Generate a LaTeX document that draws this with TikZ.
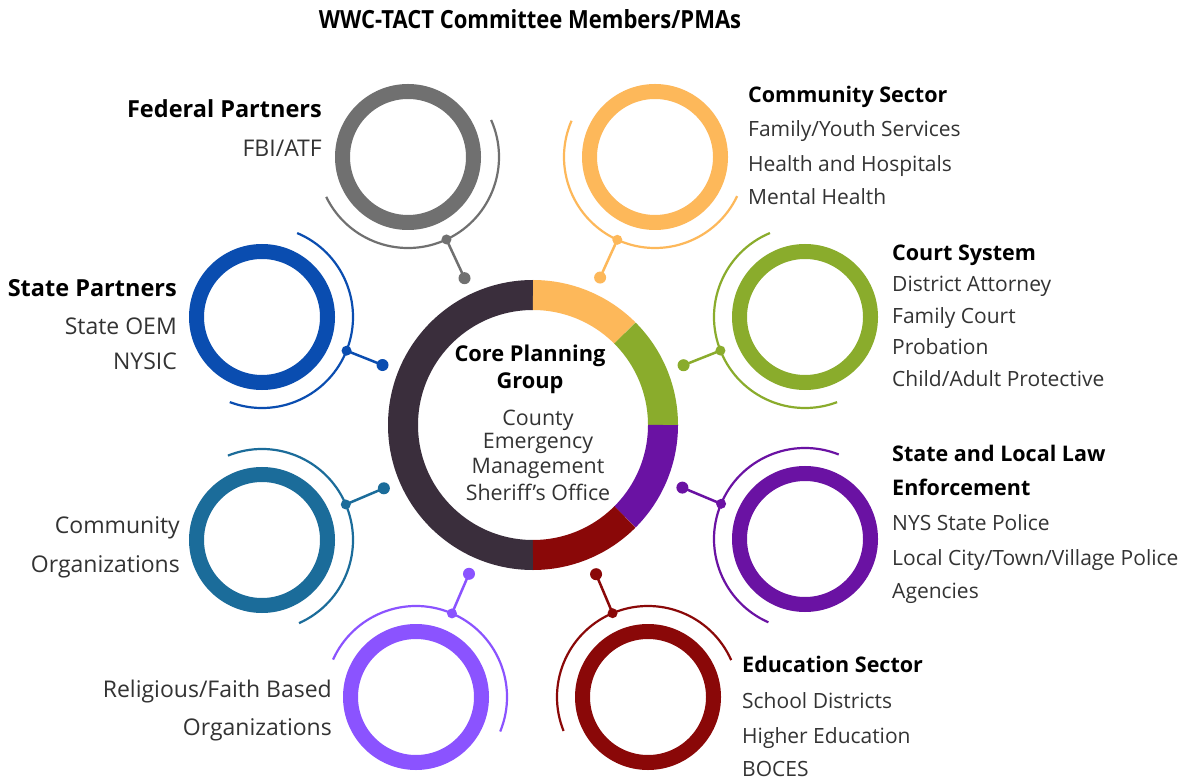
\documentclass[tikz,border=0pt]{standalone}
\usepackage{fontspec}
\setmainfont{Open Sans}
\newfontfamily\titlefont[FakeStretch=0.88]{Open Sans}
\usetikzlibrary{calc}
\definecolor{coredark}{HTML}{3A2E3C}
\definecolor{corange}{HTML}{FDB85A}
\definecolor{cgreen}{HTML}{8AAC2C}
\definecolor{cpurple}{HTML}{6A12A3}
\definecolor{cred}{HTML}{8A0808}
\definecolor{cgray}{HTML}{707070}
\definecolor{cblue}{HTML}{0A4DB0}
\definecolor{cteal}{HTML}{1B6C9A}
\definecolor{clpurple}{HTML}{8B53FF}
\definecolor{ctext}{HTML}{333333}
\tikzset{
  head/.style={inner sep=0pt, text=black, font=\fontsize{21.5}{25}\selectfont\bfseries},
  item/.style={inner sep=0pt, text=ctext, font=\fontsize{21}{25}\selectfont},
  lhead/.style={inner sep=0pt, text=black, font=\fontsize{23.5}{27}\selectfont\bfseries},
  litem/.style={inner sep=0pt, text=ctext, font=\fontsize{23}{27}\selectfont},
  corehead/.style={inner sep=0pt, text=black, font=\fontsize{21.8}{25}\selectfont\bfseries},
  coreitem/.style={inner sep=0pt, text=ctext, font=\fontsize{21.4}{24}\selectfont},
  bigdot/.style={circle, fill=#1, inner sep=0pt, minimum size=12pt},
  smalldot/.style={circle, fill=#1, inner sep=0pt, minimum size=10pt},
}
\newcommand\satellite[3]{%
  \coordinate (#1) at #3;
  \draw[line width=15pt, #2] (#1) circle[radius=65.5];
  \draw[#2, line width=2.2pt] let \p1=($(C)-(#1)$), \n1={atan2(\y1,\x1)} in
     ($(#1)+(\n1-89:91)$) arc[start angle=\n1-89, end angle=\n1+89, radius=91];
  \node[smalldot=#2] (#1a) at ($(#1)!91pt!(C)$) {};
  \node[bigdot=#2] (#1b) at ($(C)!162pt!(#1)$) {};
  \draw[#2, line width=2.5pt] (#1a.center) -- (#1b.center);
}
\begin{document}
\begin{tikzpicture}[x=1pt,y=1pt]
\useasboundingbox (0,0) rectangle (1204,780);
\fill[white] (0,0) rectangle (1204,780);
\coordinate (C) at (533,355);
% core ring
\draw[line width=30pt, coredark] ($(C)+(90:130)$) arc[start angle=90, end angle=270, radius=130];
\draw[line width=30pt, corange] ($(C)+(45:130)$) arc[start angle=45, end angle=90, radius=130];
\draw[line width=30pt, cgreen] ($(C)+(0:130)$) arc[start angle=0, end angle=45, radius=130];
\draw[line width=30pt, cpurple] ($(C)+(-45:130)$) arc[start angle=-45, end angle=0, radius=130];
\draw[line width=30pt, cred] ($(C)+(-90:130)$) arc[start angle=-90, end angle=-45, radius=130];
% satellites
\satellite{fed}{cgray}{(408,623)}
\satellite{com}{corange}{(655,623)}
\satellite{sta}{cblue}{(262,463)}
\satellite{cou}{cgreen}{(805,463)}
\satellite{org}{cteal}{(262,240)}
\satellite{law}{cpurple}{(805,241)}
\satellite{rel}{clpurple}{(416,83)}
\satellite{edu}{cred}{(648,83)}
% title
\node[inner sep=0pt, anchor=base, font=\fontsize{25}{28}\titlefont\bfseries] (title) at (530,751) {WWC-TACT Committee Members/PMAs};
% core text
\node[corehead, anchor=base] (core1) at (530,418) {Core Planning};
\node[corehead, anchor=base] (core2) at (530,391) {Group};
\node[coreitem, anchor=base] (core3) at (538,355) {County};
\node[coreitem, anchor=base] (core4) at (538,332) {Emergency};
\node[coreitem, anchor=base] (core5) at (538,307) {Management};
\node[coreitem, anchor=base] (core6) at (538,280) {Sheriff’s Office};
% federal
\node[lhead, anchor=base east] (fedt1) at (322,662) {Federal Partners};
\node[litem, anchor=base east] (fedt2) at (322,623) {FBI/ATF};
% community sector
\node[head, anchor=base west] (comt1) at (748,677) {Community Sector};
\node[item, anchor=base west] (comt2) at (748,643) {Family/Youth Services};
\node[item, anchor=base west] (comt3) at (748,608) {Health and Hospitals};
\node[item, anchor=base west] (comt4) at (748,575) {Mental Health};
% state partners
\node[lhead, anchor=base east] (stat1) at (177,483) {State Partners};
\node[litem, anchor=base east] (stat2) at (177,445) {State OEM};
\node[litem, anchor=base east] (stat3) at (177,410) {NYSIC};
% court
\node[head, anchor=base west] (cout1) at (892,519) {Court System};
\node[item, anchor=base west] (cout2) at (892,488) {District Attorney};
\node[item, anchor=base west] (cout3) at (892,456) {Family Court};
\node[item, anchor=base west] (cout4) at (892,425) {Probation};
\node[item, anchor=base west] (cout5) at (892,393) {Child/Adult Protective};
% community organizations
\node[litem, anchor=base east] (orgt1) at (180,247) {Community};
\node[litem, anchor=base east] (orgt2) at (180,208) {Organizations};
% law
\node[head, anchor=base west] (lawt1) at (892,319) {State and Local Law};
\node[head, anchor=base west] (lawt2) at (892,285) {Enforcement};
\node[item, anchor=base west] (lawt3) at (892,250) {NYS State Police};
\node[item, anchor=base west] (lawt4) at (892,215) {Local City/Town/Village Police};
\node[item, anchor=base west] (lawt5) at (892,182) {Agencies};
% religious
\node[litem, anchor=base east] (relt1) at (332,83) {Religious/Faith Based};
\node[litem, anchor=base east] (relt2) at (332,45) {Organizations};
% education
\node[head, anchor=base west] (edut1) at (742,108) {Education Sector};
\node[item, anchor=base west] (edut2) at (742,72) {School Districts};
\node[item, anchor=base west] (edut3) at (742,37) {Higher Education};
\node[item, anchor=base west] (edut4) at (742,4) {BOCES};
\end{tikzpicture}
\end{document}
